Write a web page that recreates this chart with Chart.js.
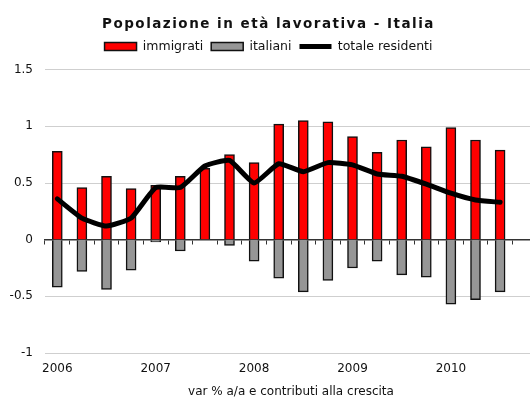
<!DOCTYPE html>
<html>
<head>
<meta charset="utf-8">
<script src="https://cdn.jsdelivr.net/npm/chart.js@4"></script>
<style>
  html, body { margin: 0; padding: 0; background: #fff; overflow: hidden; }
  #wrap { width: 540px; height: 401px; }
</style>
</head>
<body>
<div id="wrap"><canvas id="popChart"></canvas></div>
<script>
// trimestri 2006 Q1 - 2010 Q3 (+ una categoria vuota a destra)
const labels = ['2006', '', '', '', '2007', '', '', '', '2008', '', '', '', '2009', '', '', '', '2010', '', '', ''];

// contributi alla crescita, var % a/a
const immigrati = [0.78, 0.46, 0.56, 0.45, 0.48, 0.56, 0.63, 0.75, 0.68, 1.02, 1.05, 1.04, 0.91, 0.77, 0.88, 0.82, 0.99, 0.88, 0.79, null];
const italiani = [-0.42, -0.28, -0.44, -0.27, -0.02, -0.10, 0, -0.05, -0.19, -0.34, -0.46, -0.36, -0.25, -0.19, -0.31, -0.33, -0.57, -0.53, -0.46, null];
const totale = [0.36, 0.19, 0.12, 0.19, 0.46, 0.46, 0.65, 0.70, 0.50, 0.67, 0.60, 0.68, 0.66, 0.58, 0.56, 0.49, 0.41, 0.35, 0.33, null];

const FONT = "'DejaVu Sans', sans-serif";

// titolo spaziato come nell'originale + un po' d'aria sotto la legenda
const layoutTweaks = {
  id: 'layoutTweaks',
  afterInit: chart => {
    const tb = chart.titleBlock;
    if (tb && !tb._spaced) {
      const draw = tb.draw.bind(tb);
      tb.draw = area => {
        const ctx = chart.ctx;
        const old = ctx.letterSpacing;
        ctx.letterSpacing = '1.5px';
        draw(area);
        ctx.letterSpacing = old || '0px';
      };
      tb._spaced = true;
    }
    const lg = chart.legend;
    if (lg && !lg._padded) {
      const fit = lg.fit.bind(lg);
      lg.fit = () => {
        fit();
        lg.height += 7;
      };
      lg._padded = true;
    }
  }
};

new Chart(document.getElementById('popChart'), {
  data: {
    labels: labels,
    datasets: [
      {
        type: 'line',
        label: 'totale residenti',
        data: totale,
        borderColor: '#000',
        borderWidth: 5,
        borderCapStyle: 'round',
        borderJoinStyle: 'round',
        pointRadius: 0,
        tension: 0.15,
        order: 0
      },
      {
        type: 'bar',
        label: 'immigrati',
        data: immigrati,
        backgroundColor: '#ff0000',
        borderColor: '#111',
        borderWidth: 1.5,
        barThickness: 10,
        grouped: false,
        order: 1
      },
      {
        type: 'bar',
        label: 'italiani',
        data: italiani,
        backgroundColor: '#969696',
        borderColor: '#111',
        borderWidth: 1.5,
        barThickness: 10,
        grouped: false,
        order: 1
      }
    ]
  },
  plugins: [layoutTweaks],
  options: {
    responsive: true,
    maintainAspectRatio: false,
    animation: false,
    layout: { padding: { top: 16, right: 3, left: 0, bottom: 2 } },
    plugins: {
      title: {
        display: true,
        text: 'Popolazione in età lavorativa - Italia',
        color: '#111',
        font: { family: FONT, size: 13.5, weight: 'bold' },
        padding: { top: 0, bottom: 0 }
      },
      legend: {
        display: true,
        labels: {
          color: '#111',
          font: { family: FONT, size: 12.5 },
          usePointStyle: true,
          pointStyleWidth: 32,
          boxHeight: 8,
          padding: 8,
          // ordine come nel grafico originale, linea come segmento spesso
          generateLabels: chart => {
            const base = Chart.defaults.plugins.legend.labels.generateLabels(chart);
            const order = ['immigrati', 'italiani', 'totale residenti'];
            base.forEach(l => {
              if (l.text === 'totale residenti') {
                l.pointStyle = 'line';
                l.lineWidth = 5;
                l.strokeStyle = '#000';
              } else {
                l.pointStyle = 'rect';
                l.lineWidth = 1.5;
                l.strokeStyle = '#111';
              }
            });
            return base.sort((a, b) => order.indexOf(a.text) - order.indexOf(b.text));
          }
        }
      },
      tooltip: { enabled: false }
    },
    scales: {
      x: {
        type: 'category',
        offset: true,
        grid: { display: false, drawTicks: false },
        border: { display: false },
        ticks: {
          autoSkip: false,
          maxRotation: 0,
          color: '#111',
          font: { family: FONT, size: 12, lineHeight: 0.8 },
          padding: 11
        },
        title: {
          display: true,
          text: 'var % a/a e contributi alla crescita',
          color: '#111',
          font: { family: FONT, size: 12 },
          padding: { top: 0, bottom: 0 }
        }
      },
      // asse dello zero con le tacche tra i trimestri
      x0: {
        type: 'category',
        offset: true,
        position: { y: 0 },
        grid: {
          offset: true,
          drawOnChartArea: false,
          drawTicks: true,
          tickLength: 4,
          color: '#333'
        },
        border: { display: true, color: '#333', width: 1.5 },
        ticks: { display: false }
      },
      y: {
        min: -1,
        max: 1.5,
        afterFit: s => { s.width = 45; },
        ticks: {
          stepSize: 0.5,
          color: '#111',
          font: { family: FONT, size: 12 },
          padding: 12,
          callback: v => String(v)
        },
        grid: {
          color: ctx => ctx.tick && ctx.tick.value === 0 ? 'rgba(0,0,0,0)' : '#cfcfcf',
          drawTicks: false
        },
        border: { display: false }
      }
    }
  }
});
</script>
</body>
</html>
